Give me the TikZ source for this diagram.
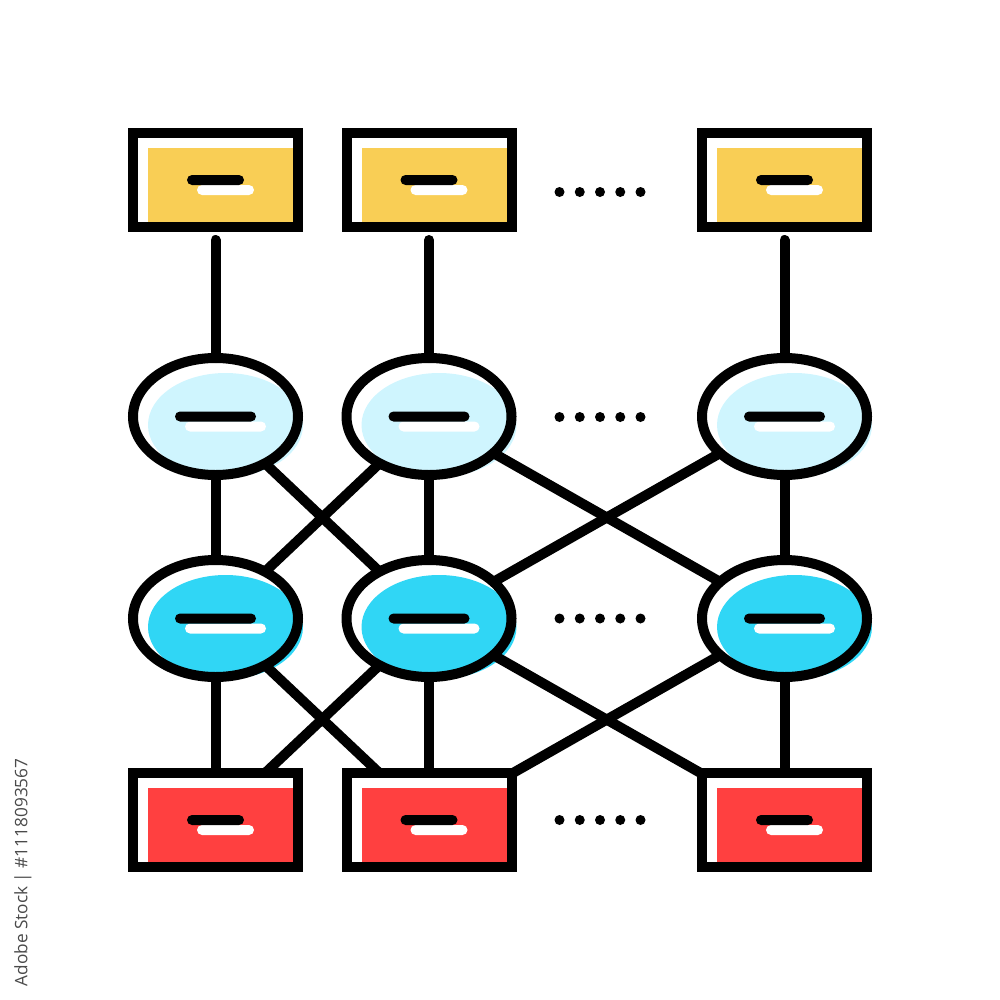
\documentclass[tikz,border=0pt]{standalone}
\usepackage{fontspec}
\setmainfont{Open Sans}
\usetikzlibrary{shapes}
\usetikzlibrary{positioning}
\definecolor{tableyellow}{HTML}{F9CE55}
\definecolor{tablered}{HTML}{FF4040}
\definecolor{paleblue}{HTML}{CFF5FE}
\definecolor{deepblue}{HTML}{30D6F5}
\definecolor{stockgrey}{HTML}{4A4A4A}
% #1 name, #2 x, #3 y, #4 colour
\newcommand{\tablebox}[4]{
	\node[boxfill,fill=#4] (#1fill) at (#2+5,#3+5) {};
	\node[boxline] (#1) at (#2,#3) {};
	\node[whitedash,minimum width=57mm] (#1white) at (#2+10,#3+10) {};
	\node[blackdash,minimum width=57mm] (#1black) at (#2,#3) {};
}
\newcommand{\layerball}[4]{
	\node[ballfill,fill=#4] (#1fill) at (#2+10,#3+8.5) {};
	\node[ballline] (#1) at (#2,#3) {};
	\node[whitedash,minimum width=81mm] (#1white) at (#2+10,#3+10) {};
	\node[blackdash,minimum width=81mm] (#1black) at (#2,#3) {};
}

\begin{document}
\begin{tikzpicture}
		[x=1mm,y=-1mm,
		 boxfill/.style={rectangle,inner sep=0pt,minimum width=145mm,minimum height=74mm},
		 boxline/.style={rectangle,draw,line width=10mm,inner sep=0pt,outer sep=0pt,minimum width=165mm,minimum height=94mm},
		 ballfill/.style={ellipse,inner sep=0pt,minimum width=155mm,minimum height=104mm},
		 ballline/.style={ellipse,draw,line width=10mm,inner sep=0pt,outer sep=0pt,minimum width=165mm,minimum height=117mm},
		 blackdash/.style={rectangle,fill=black,rounded corners=5mm,inner sep=0pt,minimum height=10mm},
		 whitedash/.style={rectangle,fill=white,rounded corners=5mm,inner sep=0pt,minimum height=10mm},
		 link/.style={draw,line width=10mm},
		 stub/.style={link,line cap=round,shorten <=13mm},
		 dots/.style={line width=10mm,line cap=round,dash pattern=on 0pt off 20.25mm}]

		\useasboundingbox (0,0) rectangle (1000,1000);

		\tablebox{top1}{215.5}{180}{tableyellow}
		\tablebox{top2}{429}{180}{tableyellow}
		\tablebox{top3}{784.5}{180}{tableyellow}

		\layerball{up1}{215.5}{416.5}{paleblue}
		\layerball{up2}{429}{416.5}{paleblue}
		\layerball{up3}{784.5}{416.5}{paleblue}

		\layerball{mid1}{215.5}{618.5}{deepblue}
		\layerball{mid2}{429}{618.5}{deepblue}
		\layerball{mid3}{784.5}{618.5}{deepblue}

		\tablebox{bot1}{215.5}{820}{tablered}
		\tablebox{bot2}{429}{820}{tablered}
		\tablebox{bot3}{784.5}{820}{tablered}

		\draw[stub] (top1) -- (up1);
		\draw[stub] (top2) -- (up2);
		\draw[stub] (top3) -- (up3);

		\draw[link] (up1) -- (mid1);
		\draw[link] (up2) -- (mid2);
		\draw[link] (up3) -- (mid3);
		\draw[link] (up1) -- (mid2);
		\draw[link] (up2) -- (mid1);
		\draw[link] (up2) -- (mid3);
		\draw[link] (up3) -- (mid2);

		\draw[link] (mid1) -- (bot1);
		\draw[link] (mid2) -- (bot2);
		\draw[link] (mid3) -- (bot3);
		\draw[link] (mid1) -- (bot2);
		\draw[link] (mid2) -- (bot1);
		\draw[link] (mid2) -- (bot3);
		\draw[link] (mid3) -- (bot2);

		\draw[dots] (559.5,192) -- (645,192);
		\draw[dots] (559.5,417) -- (645,417);
		\draw[dots] (559.5,618.5) -- (645,618.5);
		\draw[dots] (559.5,820) -- (645,820);

		\node[rotate=90,text=stockgrey,font=\fontsize{49}{49}\selectfont,inner sep=0pt] (stock) at (23,872.5) {Adobe Stock | \#1118093567};
	\end{tikzpicture}
\end{document}
